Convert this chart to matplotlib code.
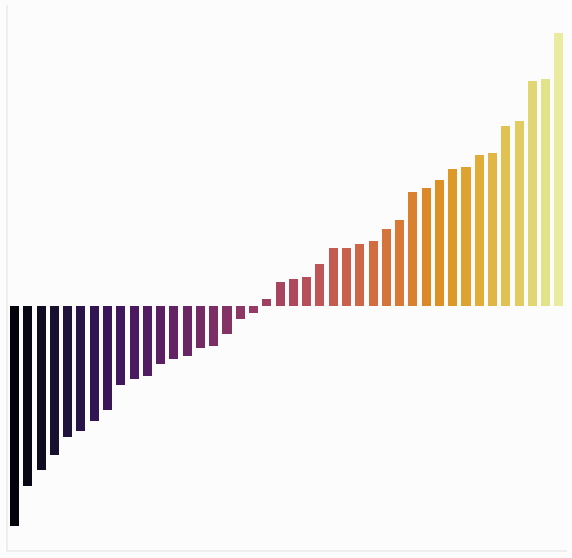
import numpy as np
import matplotlib
matplotlib.use("Agg")
import matplotlib.pyplot as plt
import seaborn as sns

# sorted values, one bar each
values = [-2.205, -1.805, -1.645, -1.495, -1.315, -1.255, -1.155, -1.045,
          -0.795, -0.735, -0.705, -0.585, -0.535, -0.505, -0.425, -0.405,
          -0.285, -0.135, -0.075, 0.065, 0.235, 0.265, 0.285, 0.415,
          0.575, 0.575, 0.615, 0.645, 0.765, 0.855, 1.135, 1.175,
          1.255, 1.365, 1.385, 1.505, 1.525, 1.795, 1.845, 2.245,
          2.265, 2.725]
positions = np.arange(len(values))

# seaborn-style palette: inferno, sampled away from the ends, desaturated
colors = sns.color_palette("inferno", len(values), desat=0.75)

fig = plt.figure(figsize=(5.72, 5.58), dpi=100)
fig.patch.set_facecolor('#fcfcfc')
ax = fig.add_axes([0.0131, 0.0125, 0.9764, 0.9767])
ax.set_facecolor('#fcfcfc')

ax.bar(positions, values, width=0.68, color=colors, linewidth=0)

ax.set_xlim(-0.53, len(values) - 1 + 0.53)
ax.set_ylim(-2.455, 2.995)
ax.set_xticks([])
ax.set_yticks([])
for side in ['top', 'right']:
    ax.spines[side].set_visible(False)
for side in ['left', 'bottom']:
    ax.spines[side].set_color('#ececec')
    ax.spines[side].set_linewidth(1.2)

plt.savefig("out.png", dpi=100, facecolor=fig.get_facecolor())
plt.close()
